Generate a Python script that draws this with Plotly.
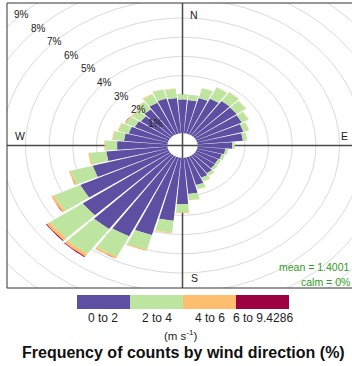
import numpy as np
import plotly.graph_objects as go

# Wind directions (degrees, bin centres) and frequency (%) per speed bin
directions = list(range(10, 370, 10))
speed_bins = ["0 to 2", "2 to 4", "4 to 6", "6 to 9.4286"]
bin_colours = ["#5E4FA2", "#BEE5A0", "#FDBE6F", "#9E0142"]

freq_0_2 = [1.74, 1.92, 2.06, 2.21, 2.18, 2.14, 2.03, 1.93, 1.46, 1.18, 1.08, 1.03,
            1.05, 1.14, 1.22, 1.50, 1.90, 2.42, 3.30, 4.20, 4.60, 4.70, 4.55, 4.15,
            3.30, 2.60, 2.13, 1.85, 1.72, 1.60, 1.53, 1.67, 1.83, 1.90, 1.85, 1.76]
freq_2_4 = [0.28, 0.54, 0.64, 0.55, 0.48, 0.32, 0.25, 0.18, 0.12, 0.12, 0.14, 0.13,
            0.13, 0.16, 0.20, 0.22, 0.32, 0.42, 0.62, 0.79, 1.18, 1.60, 1.70, 1.23,
            0.97, 0.70, 0.50, 0.46, 0.44, 0.41, 0.43, 0.45, 0.46, 0.50, 0.48, 0.27]
freq_4_6 = [0.01, 0.02, 0.02, 0.02, 0.02, 0.01, 0.01, 0.00, 0.00, 0.00, 0.00, 0.00,
            0.01, 0.01, 0.02, 0.03, 0.03, 0.04, 0.04, 0.06, 0.10, 0.16, 0.16, 0.12,
            0.07, 0.06, 0.04, 0.04, 0.04, 0.04, 0.04, 0.04, 0.04, 0.03, 0.03, 0.01]
freq_6_max = [0, 0, 0, 0, 0, 0, 0, 0, 0, 0, 0, 0,
              0, 0, 0, 0, 0, 0, 0, 0, 0.01, 0.04, 0.04, 0.015,
              0.005, 0, 0, 0, 0, 0.01, 0, 0, 0, 0, 0, 0]

ring_pcts = [1, 2, 3, 4, 5, 6, 7, 8, 9, 10]
ring_labels = ["1%", "2%", "3%", "4%", "5%", "6%", "7%", "8%", "9%"]
compass = ["N", "E", "S", "W"]
mean_speed = 1.4001
calm_pct = 0

HOLE = 0.64        # radial offset of the empty centre
HALF_W = 4.5       # half angular width of each wedge (deg)
R = 7.42           # half extent of the panel in data units
FONT = "Liberation Sans, Arial, sans-serif"

# panel in pixels: x 7..358 (clipped at 352), y 3..288
W, H = 352, 366
L, T, B_PX = 7, 3, 288
sx = 351 / (2 * R)


def px(x):
    return (x - L) / (W - L)


def py(y):
    return (B_PX - y) / (B_PX - T)


def wedge(wd, r0, r1, n=12):
    th = np.radians(np.linspace(wd - HALF_W, wd + HALF_W, n))
    xs = list(r0 * np.sin(th)) + list(r1 * np.sin(th[::-1])) + [r0 * np.sin(th[0])]
    ys = list(r0 * np.cos(th)) + list(r1 * np.cos(th[::-1])) + [r0 * np.cos(th[0])]
    return xs, ys


fig = go.Figure()

# grid rings
t = np.linspace(0, 2 * np.pi, 361)
for k in ring_pcts:
    r = k + HOLE
    fig.add_trace(go.Scatter(x=r * np.sin(t), y=r * np.cos(t), mode="lines",
                             line=dict(color="#DADADA", width=1), hoverinfo="skip"))

# compass axes
fig.add_trace(go.Scatter(x=[0, 0], y=[-R, R], mode="lines",
                         line=dict(color="#4A4A4A", width=1.5), hoverinfo="skip"))
fig.add_trace(go.Scatter(x=[-R, R], y=[0, 0], mode="lines",
                         line=dict(color="#4A4A4A", width=1.5), hoverinfo="skip"))

# stacked wedges, one trace per speed bin
series = [freq_0_2, freq_2_4, freq_4_6, freq_6_max]
cum = np.zeros(len(directions))
for vals, col, name in zip(series, bin_colours, speed_bins):
    xs_all, ys_all = [], []
    for i, wd in enumerate(directions):
        v = vals[i]
        if v > 0:
            xs, ys = wedge(wd, HOLE + cum[i], HOLE + cum[i] + v)
            xs_all += xs + [None]
            ys_all += ys + [None]
    cum += np.array(vals)
    fig.add_trace(go.Scatter(x=xs_all, y=ys_all, mode="lines", fill="toself",
                             fillcolor=col, line=dict(width=0, color=col),
                             name=name, hoverinfo="skip"))

ann = []


def label(x, y, text, size, color="#222222", xanchor="center", ref="paper"):
    ann.append(dict(x=x, y=y, xref="x" if ref == "data" else "paper",
                    yref="y" if ref == "data" else "paper",
                    xanchor=xanchor, yanchor="middle", text=text, showarrow=False,
                    font=dict(size=size, color=color, family=FONT)))


# percentage labels along the NW diagonal
for k, lab in zip(ring_pcts, ring_labels):
    r = k + HOLE
    a = np.radians(315)
    label(r * np.sin(a), r * np.cos(a), lab, 10, ref="data")

# compass letters
comp_pos = {"N": (0.49, 6.8), "E": (6.86, 0.47), "S": (0.49, -6.88), "W": (-6.86, 0.47)}
for c in compass:
    cx, cy = comp_pos[c]
    label(cx, cy, c, 10.5, ref="data")

# mean / calm statistics
label(px(352), py(267), f"mean = {mean_speed}", 10.5, "#2E9B22", xanchor="right")
label(px(352), py(282), f"calm = {calm_pct}%", 10.5, "#2E9B22", xanchor="right")

# colour key
shapes = []
key_x0, key_w = 77, 53
for i, (col, lab) in enumerate(zip(bin_colours, speed_bins)):
    x0 = key_x0 + i * key_w
    shapes.append(dict(type="rect", xref="paper", yref="paper",
                       x0=px(x0), x1=px(x0 + key_w), y0=py(309), y1=py(295),
                       fillcolor=col, line=dict(width=0)))
    label(px(x0 + key_w / 2), py(318), lab, 12)
label(px(181), py(335), "(m s<sup>-1</sup>)", 11.5)
label(px(183.5), py(352), "<b>Frequency of counts by wind direction (%)</b>", 16, "#111111")

# panel frame (left, top, bottom)
frame = dict(color="#333333", width=1)
shapes += [
    dict(type="line", xref="paper", yref="paper", x0=0, x1=0, y0=0, y1=1, line=frame),
    dict(type="line", xref="paper", yref="paper", x0=0, x1=1, y0=1, y1=1, line=frame),
    dict(type="line", xref="paper", yref="paper", x0=0, x1=1, y0=0, y1=0, line=frame),
]

fig.update_layout(
    width=W, height=H,
    margin=dict(l=L, r=W - 352, t=T, b=H - B_PX),
    paper_bgcolor="white", plot_bgcolor="white",
    showlegend=False,
    xaxis=dict(range=[-R, -R + (W - L) / sx], visible=False, fixedrange=True),
    yaxis=dict(range=[-R, R], visible=False, fixedrange=True),
    annotations=ann, shapes=shapes,
)

fig.write_html("out.html")
